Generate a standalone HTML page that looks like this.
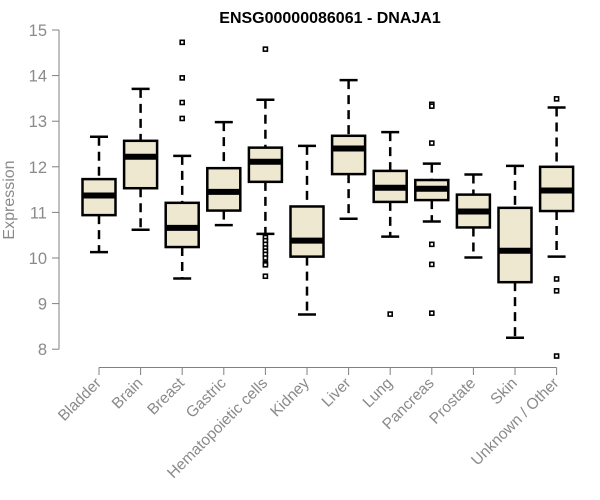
<!DOCTYPE html>
<html><head><meta charset="utf-8"><style>
body{margin:0;background:#fff}
svg{display:block;font-family:"Liberation Sans",Arial,sans-serif}
</style></head><body>
<svg id="chart" width="600" height="500">
<text x="330" y="23" text-anchor="middle" font-size="16" font-weight="bold">ENSG00000086061 - DNAJA1</text>
<text transform="translate(14,200) rotate(-90)" text-anchor="middle" font-size="16" fill="#8a8a8a">Expression</text>
<g id="axes"></g><g id="marks"></g>
</svg>
<script>
const categories=["Bladder","Brain","Breast","Gastric","Hematopoietic cells","Kidney","Liver","Lung","Pancreas","Prostate","Skin","Unknown / Other"];
const whiskerLow=[10.13,10.62,9.55,10.72,10.53,8.76,10.86,10.47,10.80,10.01,8.25,10.03];
const q1=[10.94,11.53,10.24,11.04,11.67,10.03,11.84,11.23,11.27,10.67,9.47,11.03];
const medians=[11.37,12.22,10.66,11.45,12.11,10.38,12.40,11.54,11.52,11.02,10.16,11.48];
const q3=[11.73,12.57,11.21,11.97,12.42,11.13,12.68,11.91,11.71,11.39,11.10,12.00];
const whiskerHigh=[12.66,13.71,12.24,12.98,13.47,12.46,13.90,12.76,12.07,11.83,12.02,13.30];
const outliers=[[],[],[14.73,13.95,13.41,13.06],[],[14.58,10.45,10.38,10.3,10.22,10.15,10.08,10.0,9.88,9.85,9.6],[],[],[8.77],[13.37,13.33,12.52,10.30,9.86,8.79],[],[],[13.49,9.54,9.28,7.85]];
const yTicks=[8,9,10,11,12,13,14,15];
const NS="http://www.w3.org/2000/svg";
const y=v=>30+(15-v)*45.6;
const x=i=>99+i*41.6;
function mk(tag,attrs,parent){const e=document.createElementNS(NS,tag);for(const k in attrs)e.setAttribute(k,attrs[k]);parent.appendChild(e);return e;}
const axes=document.getElementById('axes'),marks=document.getElementById('marks');
let a=mk('line',{x1:59,x2:59,y1:y(15),y2:y(8),stroke:'#808080'},axes);


yTicks.forEach(t=>{
 const l=mk('line',{x1:52,x2:59,y1:y(t),y2:y(t),stroke:'#808080'},axes);
 
 
 const tx=mk('text',{x:47,y:y(t)+6,'text-anchor':'end','font-size':16.5,fill:'#8a8a8a'},axes);
 tx.textContent=t;
 
 
});
a=mk('line',{x1:x(0),x2:x(11),y1:367.5,y2:367.5,stroke:'#808080'},axes);


categories.forEach((c,i)=>{
 const l=mk('line',{x1:x(i),x2:x(i),y1:367.5,y2:375,stroke:'#808080'},axes);
 
 
 const tx=mk('text',{transform:`translate(${x(i)+3},384) rotate(-45)`,'text-anchor':'end','font-size':15.5,fill:'#8a8a8a'},axes);
 tx.textContent=c;
 
 
 const g=mk('g',{},marks);
 
 
 const cx=x(i);
 mk('line',{x1:cx,x2:cx,y1:y(whiskerHigh[i]),y2:y(q3[i]),stroke:'#000','stroke-width':2.5,'stroke-dasharray':'9,6'},g);
 mk('line',{x1:cx,x2:cx,y1:y(q1[i]),y2:y(whiskerLow[i]),stroke:'#000','stroke-width':2.5,'stroke-dasharray':'9,6'},g);
 mk('line',{x1:cx-9,x2:cx+9,y1:y(whiskerHigh[i]),y2:y(whiskerHigh[i]),stroke:'#000','stroke-width':2.5},g);
 mk('line',{x1:cx-9,x2:cx+9,y1:y(whiskerLow[i]),y2:y(whiskerLow[i]),stroke:'#000','stroke-width':2.5},g);
 mk('rect',{x:cx-16.5,y:y(q3[i]),width:33,height:y(q1[i])-y(q3[i]),fill:'#ede8cf',stroke:'#000','stroke-width':2.5},g);
 mk('line',{x1:cx-16.5,x2:cx+16.5,y1:y(medians[i]),y2:y(medians[i]),stroke:'#000','stroke-width':6},g);
 outliers[i].forEach(o=>{
  const r=mk('rect',{x:cx-2,y:y(o)-2,width:4,height:4,fill:'#fff',stroke:'#000','stroke-width':1.6},g);
  
  
 });
});
</script>
</body></html>
